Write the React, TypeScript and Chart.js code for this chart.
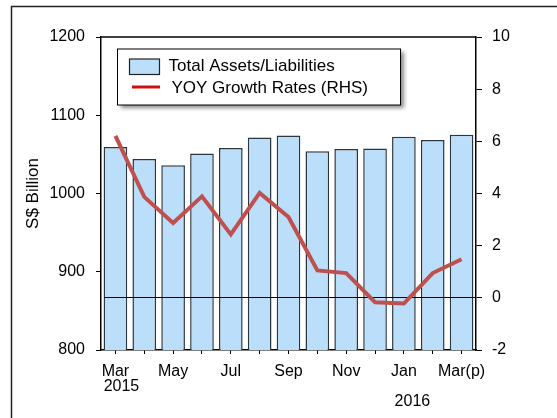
import { useEffect, useRef } from 'react';
import { Chart, registerables } from 'chart.js';

Chart.register(...registerables);

const categories = ['Mar', 'Apr', 'May', 'Jun', 'Jul', 'Aug', 'Sep', 'Oct', 'Nov', 'Dec', 'Jan', 'Feb', 'Mar(p)'];
const totalAssets = [1059.5, 1044, 1036, 1051, 1058, 1071.5, 1074, 1054, 1057, 1057.5, 1072.5, 1068.5, 1075];
const yoyGrowth = [6.21, 3.87, 2.87, 3.89, 2.43, 4.02, 3.1, 1.05, 0.95, -0.17, -0.22, 0.95, 1.48];
const yearLabels = ['2015', '2016'];
const yearIndices = [0, 10];
const leftAxis = { min: 800, max: 1200, step: 100 };
const rightAxis = { min: -2, max: 10, step: 2 };
const referenceLineValue = 0;

const FONT = '"Liberation Sans", Arial, sans-serif';

const decorPlugin = {
  id: 'decor',
  beforeDraw(chart: any) {
    const { ctx } = chart;
    ctx.save();
    ctx.strokeStyle = '#222';
    ctx.lineWidth = 1.5;
    ctx.beginPath();
    ctx.moveTo(11.5, 418);
    ctx.lineTo(11.5, 6.5);
    ctx.lineTo(557, 6.5);
    ctx.stroke();
    ctx.restore();
  },
  beforeDatasetDraw(chart: any, args: any) {
    if (args.index !== 1) return;
    const { ctx, chartArea } = chart;
    const yPix = Math.round(chart.scales.y1.getPixelForValue(referenceLineValue)) - 0.5;
    ctx.save();
    ctx.strokeStyle = '#000';
    ctx.lineWidth = 1;
    ctx.beginPath();
    ctx.moveTo(chartArea.left + 3, yPix);
    ctx.lineTo(chartArea.right, yPix);
    ctx.stroke();
    ctx.restore();
  },
  afterDraw(chart: any) {
    const { ctx, chartArea } = chart;
    const xs = chart.scales.x;
    ctx.save();
    ctx.strokeStyle = '#000';
    ctx.lineWidth = 1.5;
    ctx.beginPath();
    ctx.moveTo(chartArea.left, chartArea.top);
    ctx.lineTo(chartArea.right, chartArea.top);
    ctx.stroke();

    ctx.fillStyle = '#000';
    ctx.font = '16px ' + FONT;
    ctx.textAlign = 'center';
    ctx.textBaseline = 'middle';
    ctx.fillText(yearLabels[0], xs.getPixelForValue(yearIndices[0]) + 6, xs.top + 36.5);
    ctx.fillText(yearLabels[1], xs.getPixelForValue(yearIndices[1]) + 8.5, xs.top + 52);

    const x = chartArea.left + 16.5;
    const y = chartArea.top + 12;
    const w = 283;
    const h = 56;
    ctx.save();
    ctx.shadowColor = 'rgba(0,0,0,0.45)';
    ctx.shadowBlur = 4;
    ctx.shadowOffsetX = 3;
    ctx.shadowOffsetY = 3;
    ctx.fillStyle = '#fff';
    ctx.fillRect(x, y, w, h);
    ctx.restore();
    ctx.strokeStyle = '#000';
    ctx.lineWidth = 1;
    ctx.strokeRect(x, y, w, h);

    const ds = chart.data.datasets;
    ctx.fillStyle = ds[0].backgroundColor;
    ctx.fillRect(x + 12, y + 10, 30, 15.5);
    ctx.strokeStyle = '#222';
    ctx.lineWidth = 1.2;
    ctx.strokeRect(x + 12, y + 10, 30, 15.5);

    ctx.strokeStyle = '#cc1010';
    ctx.lineWidth = 3;
    ctx.beginPath();
    ctx.moveTo(x + 14.5, y + 38);
    ctx.lineTo(x + 42.5, y + 38);
    ctx.stroke();

    ctx.fillStyle = '#000';
    ctx.font = '17px ' + FONT;
    ctx.textAlign = 'left';
    ctx.textBaseline = 'middle';
    ctx.fillText(ds[0].label, x + 51, y + 17);
    ctx.fillText(ds[1].label, x + 54, y + 39);
    ctx.restore();
  },
};

export default function App() {
  const canvasRef = useRef<HTMLCanvasElement | null>(null);

  useEffect(() => {
    if (!canvasRef.current) return;
    const chart = new Chart(canvasRef.current, {
      type: 'bar',
      data: {
        labels: categories,
        datasets: [
          {
            type: 'bar',
            label: 'Total Assets/Liabilities',
            data: totalAssets,
            backgroundColor: '#bbdefb',
            borderColor: '#2a3640',
            borderWidth: 1.5,
            barPercentage: 0.82,
            categoryPercentage: 1,
            yAxisID: 'y',
            order: 2,
          },
          {
            type: 'line',
            label: 'YOY Growth Rates (RHS)',
            data: yoyGrowth,
            borderColor: '#c0504d',
            backgroundColor: '#c0504d',
            borderWidth: 4,
            pointRadius: 0,
            tension: 0,
            yAxisID: 'y1',
            order: 1,
          } as any,
        ],
      },
      options: {
        responsive: false,
        animation: false,
        devicePixelRatio: 1,
        layout: { padding: { top: 37, left: 0, right: 0, bottom: 0 } },
        plugins: {
          legend: { display: false },
          tooltip: { enabled: false },
        },
        scales: {
          x: {
            afterFit: (s: any) => {
              s.height = 68;
            },
            grid: {
              offset: false,
              drawOnChartArea: false,
              tickLength: 4,
              tickColor: '#000',
            },
            border: { color: '#000', width: 1.5 },
            ticks: {
              autoSkip: false,
              maxRotation: 0,
              padding: 8,
              color: '#000',
              font: { family: FONT, size: 16 },
              callback: (_v: any, i: number) => (i % 2 === 0 ? categories[i] : ''),
            },
          },
          y: {
            position: 'left',
            min: leftAxis.min,
            max: leftAxis.max,
            afterFit: (s: any) => {
              s.width = 101;
            },
            ticks: {
              stepSize: leftAxis.step,
              padding: 11,
              color: '#000',
              font: { family: FONT, size: 16 },
              callback: (v: any) => String(v),
            },
            grid: {
              drawOnChartArea: false,
              tickLength: 5,
              tickColor: '#000',
            },
            border: { color: '#000', width: 1.5 },
            title: {
              display: true,
              text: 'S$ Billion',
              color: '#000',
              font: { family: FONT, size: 17 },
              padding: { top: 23, bottom: 0 },
            },
          },
          y1: {
            position: 'right',
            min: rightAxis.min,
            max: rightAxis.max,
            afterFit: (s: any) => {
              s.width = 81;
            },
            ticks: {
              stepSize: rightAxis.step,
              padding: 10,
              color: '#000',
              font: { family: FONT, size: 16 },
              callback: (v: any) => String(v),
            },
            grid: {
              drawOnChartArea: false,
              tickLength: 6,
              tickColor: '#000',
            },
            border: { color: '#000', width: 1.5 },
          },
        },
      },
      plugins: [decorPlugin],
    });
    return () => chart.destroy();
  }, []);

  return (
    <div style={{ position: 'fixed', left: 0, top: 0, width: 557, height: 418, background: '#fff' }}>
      <canvas ref={canvasRef} width={557} height={418} style={{ display: 'block' }} />
    </div>
  );
}
